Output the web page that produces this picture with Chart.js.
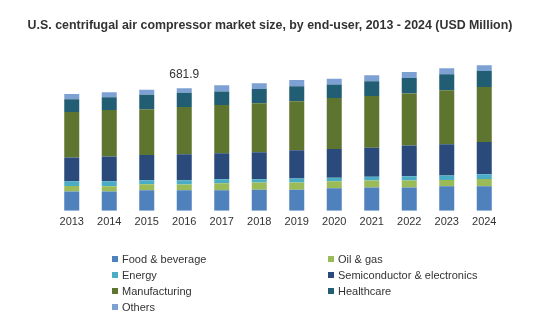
<!DOCTYPE html>
<html>
<head>
<meta charset="utf-8">
<script src="https://cdn.jsdelivr.net/npm/chart.js@4"></script>
<style>
  body { margin: 0; background: #fff; font-family: "Liberation Sans", Arial, sans-serif; }
  #wrap { position: relative; width: 542px; height: 329px; }
  #title { position: absolute; left: 0; top: 18px; width: 540px; text-align: center;
    font-weight: bold; font-size: 12.4px; color: #333; }
  #legend { position: absolute; left: 112px; top: 252px; display: grid;
    grid-template-columns: 216px 200px; row-gap: 2px; font-size: 11px; color: #333; }
  #legend div { height: 14px; line-height: 14px; white-space: nowrap; }
  #legend span { display: inline-block; width: 6px; height: 6px; margin-right: 4px; vertical-align: 1px; }
</style>
</head>
<body>
<div id="wrap">
  <canvas id="c" width="542" height="329"></canvas>
  <div id="title">U.S. centrifugal air compressor market size, by end-user, 2013 - 2024 (USD Million)</div>
  <div id="legend"></div>
</div>
<script>
/* data */
const years = ["2013", "2014", "2015", "2016", "2017", "2018", "2019", "2020", "2021", "2022", "2023", "2024"];
const foodBeverage = [108, 108, 114, 114, 114, 117, 117, 125, 130, 129, 136, 136];
const oilGas = [30, 28, 34, 32, 39, 41, 41, 39, 39, 39, 35, 41];
const energy = [26, 28, 22, 24, 22, 17, 22, 20, 20, 24, 26, 26];
const semiconductor = [132, 138, 140, 145, 145, 151, 157, 160, 162, 171, 173, 179];
const manufacturing = [253, 259, 255, 263, 268, 272, 272, 283, 287, 289, 300, 307];
const healthcare = [71, 71, 80, 78, 76, 80, 84, 76, 82, 86, 89, 89];
const others = [30, 28, 28, 26, 34, 32, 34, 32, 34, 34, 34, 32];
const noteIndex = 3;
const noteText = "681.9";

const series = [
  { label: "Food & beverage", data: foodBeverage, color: "#4f81bd" },
  { label: "Oil & gas", data: oilGas, color: "#9bbb59" },
  { label: "Energy", data: energy, color: "#4bacc6" },
  { label: "Semiconductor & electronics", data: semiconductor, color: "#2a4a7b" },
  { label: "Manufacturing", data: manufacturing, color: "#5e7530" },
  { label: "Healthcare", data: healthcare, color: "#215e74" },
  { label: "Others", data: others, color: "#7ea1d3" },
];

const totalNote = {
  id: "totalNote",
  afterDatasetsDraw(chart) {
    const { ctx } = chart;
    const meta = chart.getDatasetMeta(chart.data.datasets.length - 1);
    const bar = meta.data[noteIndex];
    ctx.save();
    ctx.font = "12px 'Liberation Sans', Arial, sans-serif";
    ctx.fillStyle = "#333";
    ctx.textAlign = "center";
    ctx.textBaseline = "bottom";
    ctx.fillText(noteText, bar.x, bar.y - 8);
    ctx.restore();
  },
};

const chart = new Chart(document.getElementById("c"), {
  type: "bar",
  data: {
    labels: years,
    datasets: series.map((s) => ({
      label: s.label,
      data: s.data,
      backgroundColor: s.color,
      barPercentage: 0.4,
      categoryPercentage: 1,
    })),
  },
  options: {
    responsive: false,
    animation: false,
    layout: { padding: { left: 53, right: 39, top: 49, bottom: 103 } },
    plugins: {
      legend: { display: false },
      tooltip: { enabled: false },
    },
    scales: {
      x: {
        stacked: true,
        grid: { display: false },
        border: { display: false },
        ticks: { color: "#333", font: { size: 11, family: "'Liberation Sans', Arial, sans-serif" }, padding: -3 },
      },
      y: {
        stacked: true,
        display: false,
        min: 0,
        max: 900,
      },
    },
  },
  plugins: [totalNote],
});

const legend = document.getElementById("legend");
series.forEach((s) => {
  const item = document.createElement("div");
  item.innerHTML = '<span style="background:' + s.color + '"></span>' + s.label;
  legend.appendChild(item);
});
</script>
</body>
</html>
